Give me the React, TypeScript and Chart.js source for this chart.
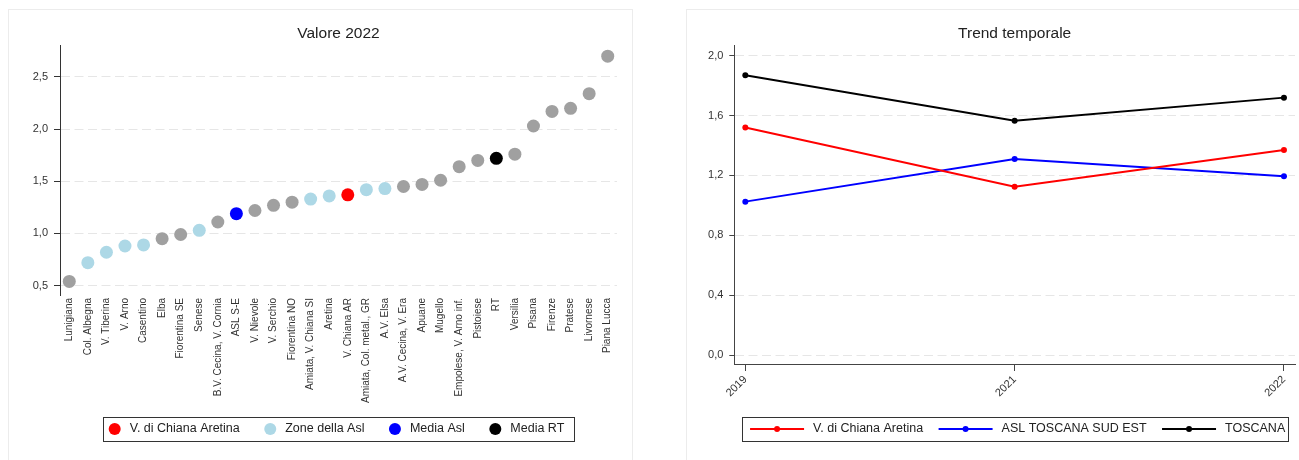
import React, { useEffect, useRef } from 'react';
import { Chart, registerables } from 'chart.js';

Chart.register(...registerables);

const FONT = '"Liberation Sans", Arial, Helvetica, sans-serif';

// ---------- Left chart data: Valore 2022 ----------
const zones = [
  'Lunigiana', 'Col. Albegna', 'V. Tiberina', 'V. Arno', 'Casentino', 'Elba',
  'Fiorentina SE', 'Senese', 'B.V. Cecina, V. Cornia', 'ASL S-E', 'V. Nievole',
  'V. Serchio', 'Fiorentina NO', 'Amiata, V. Chiana SI', 'Aretina', 'V. Chiana AR',
  'Amiata, Col. metal., GR', 'A.V. Elsa', 'A.V. Cecina, V. Era', 'Apuane', 'Mugello',
  'Empolese, V. Arno inf.', 'Pistoiese', 'RT', 'Versilia', 'Pisana', 'Firenze',
  'Pratese', 'Livornese', 'Piana Lucca',
];
const values2022 = [
  0.54, 0.72, 0.82, 0.88, 0.89, 0.95, 0.99, 1.03, 1.11, 1.19, 1.22, 1.27, 1.30, 1.33, 1.36,
  1.37, 1.42, 1.43, 1.45, 1.47, 1.51, 1.64, 1.70, 1.72, 1.76, 2.03, 2.17, 2.20, 2.34, 2.70,
];
const zoneGroups = [
  'altro', 'asl', 'asl', 'asl', 'asl', 'altro', 'altro', 'asl', 'altro', 'mediaAsl',
  'altro', 'altro', 'altro', 'asl', 'asl', 'zona', 'asl', 'asl', 'altro', 'altro',
  'altro', 'altro', 'altro', 'mediaRT', 'altro', 'altro', 'altro', 'altro', 'altro', 'altro',
];
const groupOrder = ['altro', 'asl', 'zona', 'mediaAsl', 'mediaRT'];
const groupColors: Record<string, string> = {
  altro: '#a0a0a0',
  asl: '#add8e6',
  zona: '#ff0000',
  mediaAsl: '#0000ff',
  mediaRT: '#000000',
};
const leftLegendLabels = ['V. di Chiana Aretina', 'Zone della Asl', 'Media Asl', 'Media RT'];
const leftLegendGroups = ['zona', 'asl', 'mediaAsl', 'mediaRT'];
const leftYTicks = [0.5, 1.0, 1.5, 2.0, 2.5];

// ---------- Right chart data: Trend temporale ----------
const years = ['2019', '2021', '2022'];
const seriesNames = ['V. di Chiana Aretina', 'ASL TOSCANA SUD EST', 'TOSCANA'];
const seriesColors = ['#ff0000', '#0000ff', '#000000'];
const chianaValues = [1.52, 1.125, 1.37];
const aslValues = [1.025, 1.31, 1.195];
const toscanaValues = [1.87, 1.565, 1.72];
const rightYTicks = [0, 0.4, 0.8, 1.2, 1.6, 2.0];

const fmt = (v: number) => Number(v).toFixed(1).replace('.', ',');

type LegendCfg = {
  items: { label: string; color: string }[];
  kind: 'dot' | 'line';
  fontSize: number;
  symbolWidth: number;
  symbolGap: number;
  itemGap: number;
  dotRadius: number;
  bottom: number;
  boxHeight: number;
  padLeft: number;
  padRight: number;
  shift: number;
};

function makeBoxLegend(cfg: LegendCfg) {
  return {
    id: 'boxLegend',
    afterDraw(chart: any) {
      const { ctx, chartArea } = chart;
      ctx.save();
      ctx.font = `${cfg.fontSize}px ${FONT}`;
      const widths = cfg.items.map((it) => ctx.measureText(it.label).width);
      let total = 0;
      widths.forEach((w, i) => {
        total += cfg.symbolWidth + cfg.symbolGap + w + (i > 0 ? cfg.itemGap : 0);
      });
      const cx = (chartArea.left + chartArea.right) / 2 + cfg.shift;
      const cy = chart.height - cfg.bottom;
      let x = cx - total / 2;
      const bx = Math.round(x - cfg.padLeft) + 0.5;
      const bw = Math.round(total + cfg.padLeft + cfg.padRight);
      const by = Math.round(cy - cfg.boxHeight / 2) + 0.5;
      ctx.strokeStyle = '#333333';
      ctx.lineWidth = 1;
      ctx.strokeRect(bx, by, bw, cfg.boxHeight);
      ctx.textBaseline = 'middle';
      ctx.textAlign = 'left';
      cfg.items.forEach((it, i) => {
        if (cfg.kind === 'dot') {
          ctx.beginPath();
          ctx.fillStyle = it.color;
          ctx.arc(x + cfg.symbolWidth / 2, cy, cfg.symbolWidth / 2, 0, Math.PI * 2);
          ctx.fill();
        } else {
          ctx.strokeStyle = it.color;
          ctx.lineWidth = 2;
          ctx.beginPath();
          ctx.moveTo(x, cy);
          ctx.lineTo(x + cfg.symbolWidth, cy);
          ctx.stroke();
          ctx.beginPath();
          ctx.fillStyle = it.color;
          ctx.arc(x + cfg.symbolWidth / 2, cy, cfg.dotRadius, 0, Math.PI * 2);
          ctx.fill();
        }
        ctx.fillStyle = '#222222';
        ctx.fillText(it.label, x + cfg.symbolWidth + cfg.symbolGap, cy);
        x += cfg.symbolWidth + cfg.symbolGap + widths[i] + cfg.itemGap;
      });
      ctx.restore();
    },
  };
}

const titleOpts = (text: string) => ({
  display: true,
  text,
  color: '#222222',
  font: { family: FONT, size: 15.5, weight: 'normal' as const },
  padding: { top: 14, bottom: 3.1 },
});

// y axis takes no layout width (so title/legend centre on the plot); labels drawn without clipping
const zeroWidthAxis = (s: any) => {
  s.width = 0;
  s._computeLabelArea = () => undefined;
};

function leftConfig(): any {
  return {
    type: 'line',
    data: {
      labels: zones,
      datasets: groupOrder.map((g) => ({
        label: g,
        data: values2022.map((v, i) => (zoneGroups[i] === g ? v : null)),
        showLine: false,
        pointRadius: 6.5,
        pointBackgroundColor: groupColors[g],
        pointBorderColor: groupColors[g],
        pointBorderWidth: 0,
      })),
    },
    options: {
      responsive: false,
      animation: false,
      devicePixelRatio: 1,
      events: [],
      layout: { padding: { left: 51, right: 15, top: 0, bottom: 0 } },
      plugins: {
        legend: { display: false },
        tooltip: { enabled: false },
        title: titleOpts('Valore 2022'),
      },
      scales: {
        x: {
          type: 'category',
          offset: true,
          grid: { display: false, drawTicks: false },
          border: { display: false },
          ticks: {
            autoSkip: false,
            minRotation: 90,
            maxRotation: 90,
            padding: 3,
            color: '#333333',
            font: { family: FONT, size: 10 },
          },
          afterFit: (s: any) => {
            s.height = 165;
          },
        },
        y: {
          type: 'linear',
          min: 0.41,
          max: 2.8,
          afterBuildTicks: (s: any) => {
            s.ticks = leftYTicks.map((v) => ({ value: v }));
          },
          afterFit: zeroWidthAxis,
          ticks: {
            callback: (v: any) => fmt(v),
            padding: 6,
            color: '#333333',
            font: { family: FONT, size: 11 },
          },
          grid: { color: '#e6e6e6', lineWidth: 1, tickLength: 6, tickColor: '#333333', tickWidth: 1 },
          border: { display: true, color: '#333333', width: 1, dash: [9, 4.5] },
        },
      },
    },
    plugins: [
      makeBoxLegend({
        items: leftLegendLabels.map((l, i) => ({ label: l, color: groupColors[leftLegendGroups[i]] })),
        kind: 'dot',
        fontSize: 12.5,
        symbolWidth: 12,
        symbolGap: 9,
        itemGap: 24.5,
        dotRadius: 6,
        bottom: 31,
        boxHeight: 24,
        padLeft: 6,
        padRight: 9,
        shift: -2,
      }),
    ],
  };
}

function rightConfig(): any {
  const all = [chianaValues, aslValues, toscanaValues];
  return {
    type: 'line',
    data: {
      datasets: all.map((vals, k) => ({
        label: seriesNames[k],
        data: vals.map((v, i) => ({ x: i, y: v })),
        borderColor: seriesColors[k],
        backgroundColor: seriesColors[k],
        borderWidth: 2,
        pointRadius: 3,
        pointBorderWidth: 0,
        pointBackgroundColor: seriesColors[k],
        tension: 0,
        fill: false,
      })),
    },
    options: {
      responsive: false,
      animation: false,
      devicePixelRatio: 1,
      events: [],
      layout: { padding: { left: 47.3, right: 15, top: 0, bottom: 0 } },
      plugins: {
        legend: { display: false },
        tooltip: { enabled: false },
        title: titleOpts('Trend temporale'),
      },
      scales: {
        x: {
          type: 'linear',
          min: -0.041,
          max: 2.041,
          afterBuildTicks: (s: any) => {
            s.ticks = years.map((_, i) => ({ value: i }));
          },
          afterFit: (s: any) => {
            s.height = 96;
          },
          ticks: {
            callback: (v: any) => years[Math.round(v)],
            minRotation: 45,
            maxRotation: 45,
            padding: 2,
            color: '#333333',
            font: { family: FONT, size: 11 },
          },
          grid: { display: true, drawOnChartArea: false, tickLength: 7, tickColor: '#444444', tickWidth: 1 },
          border: { display: true, color: '#444444', width: 1 },
        },
        y: {
          type: 'linear',
          min: -0.06,
          max: 2.067,
          afterBuildTicks: (s: any) => {
            s.ticks = rightYTicks.map((v) => ({ value: v }));
          },
          afterFit: zeroWidthAxis,
          ticks: {
            callback: (v: any) => fmt(v),
            padding: 6,
            color: '#333333',
            font: { family: FONT, size: 11 },
          },
          grid: { color: '#e6e6e6', lineWidth: 1, tickLength: 5, tickColor: '#444444', tickWidth: 1 },
          border: { display: true, color: '#444444', width: 1, dash: [9, 4.5] },
        },
      },
    },
    plugins: [
      makeBoxLegend({
        items: seriesNames.map((l, i) => ({ label: l, color: seriesColors[i] })),
        kind: 'line',
        fontSize: 12.5,
        symbolWidth: 54,
        symbolGap: 9,
        itemGap: 15.5,
        dotRadius: 3,
        bottom: 31,
        boxHeight: 24,
        padLeft: 8,
        padRight: 3,
        shift: 3,
      }),
    ],
  };
}

function ChartPanel({ left, makeConfig }: { left: number; makeConfig: () => any }) {
  const ref = useRef<HTMLCanvasElement | null>(null);
  useEffect(() => {
    if (!ref.current) return;
    const chart = new Chart(ref.current, makeConfig());
    return () => chart.destroy();
  }, []);
  return (
    <div
      style={{
        position: 'absolute',
        left,
        top: 9,
        width: 625,
        height: 460,
        boxSizing: 'border-box',
        border: '1px solid #ececec',
        background: '#ffffff',
      }}
    >
      <canvas ref={ref} width={623} height={450} style={{ display: 'block', width: 623, height: 450 }} />
    </div>
  );
}

export default function App() {
  return (
    <div
      style={{
        position: 'absolute',
        left: 0,
        top: 0,
        width: 1299,
        height: 460,
        overflow: 'hidden',
        background: '#ffffff',
      }}
    >
      <ChartPanel left={8} makeConfig={leftConfig} />
      <ChartPanel left={686} makeConfig={rightConfig} />
    </div>
  );
}
